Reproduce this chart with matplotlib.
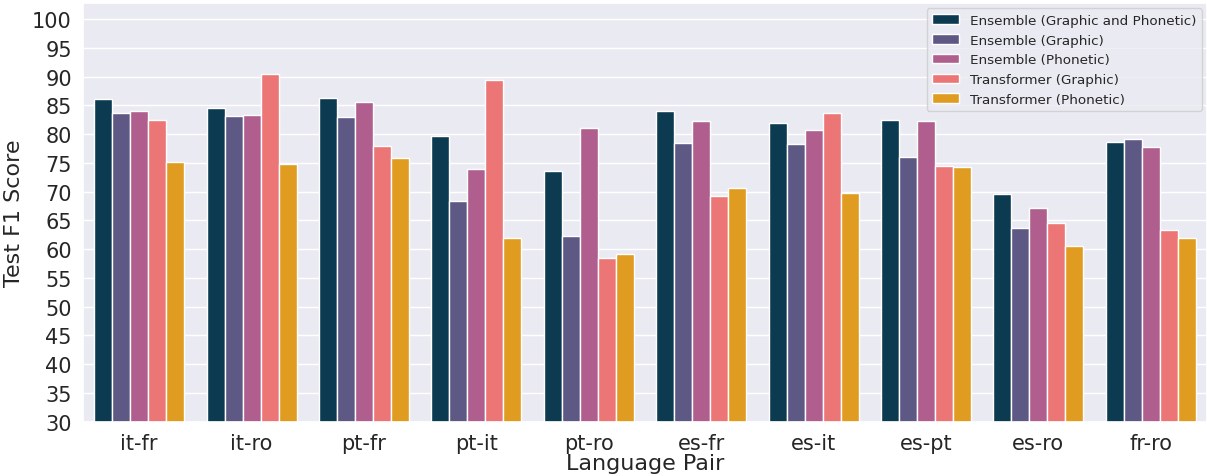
import matplotlib
matplotlib.use("Agg")
import matplotlib.pyplot as plt
import numpy as np
import pandas as pd
import seaborn as sns

pairs = ["it-fr", "it-ro", "pt-fr", "pt-it", "pt-ro", "es-fr", "es-it", "es-pt", "es-ro", "fr-ro"]
models = [
    "Ensemble (Graphic and Phonetic)",
    "Ensemble (Graphic)",
    "Ensemble (Phonetic)",
    "Transformer (Graphic)",
    "Transformer (Phonetic)",
]

ens_both = [86.1, 84.6, 86.2, 79.7, 73.6, 84.1, 82.0, 82.5, 69.6, 78.7]
ens_graphic = [83.6, 83.2, 83.0, 68.3, 62.3, 78.4, 78.3, 76.1, 63.6, 79.1]
ens_phonetic = [84.1, 83.4, 85.6, 74.0, 81.0, 82.3, 80.8, 82.2, 67.2, 77.8]
trans_graphic = [82.4, 90.5, 78.0, 89.5, 58.5, 69.3, 83.7, 74.4, 64.6, 63.4]
trans_phonetic = [75.1, 74.8, 75.9, 61.9, 59.2, 70.6, 69.8, 74.3, 60.5, 62.0]

palette = ["#003f5c", "#58508d", "#bc5090", "#ff6361", "#ffa600"]

rows = []
for model, scores in zip(models, [ens_both, ens_graphic, ens_phonetic, trans_graphic, trans_phonetic]):
    for pair, score in zip(pairs, scores):
        rows.append({"Language Pair": pair, "Model": model, "Score": score})
df = pd.DataFrame(rows)

sns.set_theme(style="darkgrid")
plt.rcParams["font.family"] = ["DejaVu Sans"]

fig = plt.figure(figsize=(12.07, 4.77), dpi=100)
ax = fig.add_axes([0.0688, 0.1138, 0.9312, 0.8778])

sns.barplot(data=df, x="Language Pair", y="Score", hue="Model", palette=palette,
            hue_order=models, order=pairs, ax=ax, errorbar=None)

ax.set_ylim(30, 102.8)
ax.set_yticks(np.arange(30, 101, 5))
ax.set_xlim(-0.5, 9.5)
ax.tick_params(axis="both", labelsize=15, pad=2)
ax.set_xlabel("Language Pair", fontsize=16, labelpad=0)
ax.set_ylabel("Test F1 Score", fontsize=16, labelpad=6)
ax.legend(loc="upper right", fontsize=9.7, title=None, borderaxespad=0.4)

fig.savefig("out.png", dpi=100)
